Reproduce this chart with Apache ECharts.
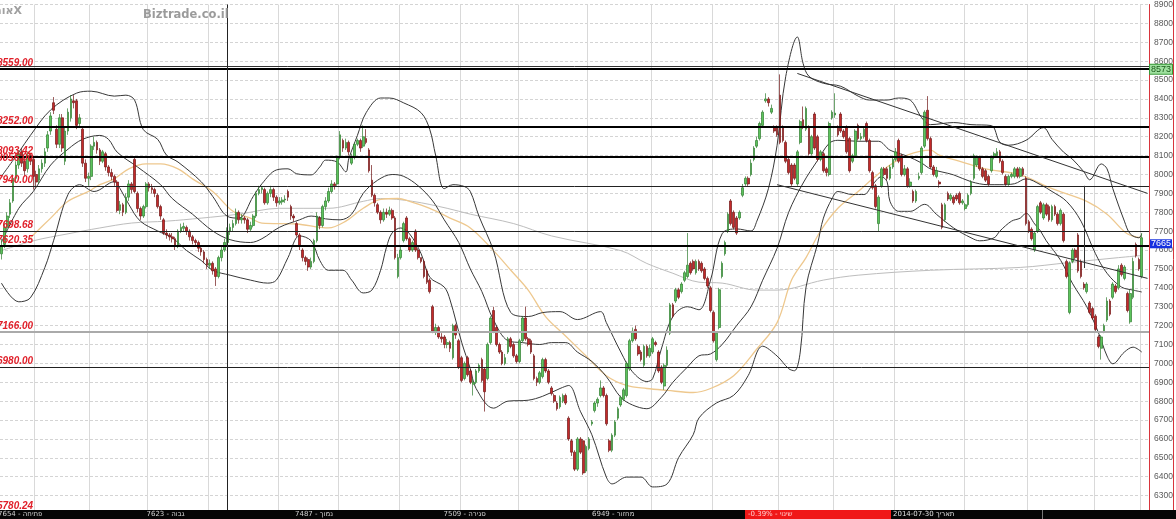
<!DOCTYPE html>
<html><head><meta charset="utf-8">
<script src="https://cdn.jsdelivr.net/npm/echarts@6/dist/echarts.min.js"></script>
<style>html,body{margin:0;padding:0;background:#fff;overflow:hidden}#c{width:1176px;height:519px}</style>
</head><body><div id="c"></div>
<script>
// [open, close, low, high]
const candles = [
[7580,7620,7550,7660],[7630,7720,7610,7740],[7720,7780,7700,7800],[7790,7850,7770,7870],[7860,7980,7850,8000],
[7980,8050,7960,8070],[8050,8110,8030,8130],[8120,8060,8040,8140],[8070,8020,7990,8090],[8030,8100,8010,8120],
[8100,8070,8050,8110],[8080,7990,7920,8100],[8000,7960,7930,8020],[7970,8030,7950,8050],[8030,8060,8010,8080],
[8060,8120,8040,8140],[8140,8210,8120,8230],[8230,8310,8210,8330],[8380,8340,8320,8410],[8240,8160,8140,8260],
[8160,8300,8140,8320],[8300,8140,8120,8320],[8070,8230,8050,8250],[8230,8330,8210,8350],[8300,8400,8280,8420],
[8390,8380,8350,8420],[8390,8260,8240,8400],[8270,8300,8250,8320],[8240,8060,8040,8250],[8060,7980,7960,8080],
[7980,7990,7940,8010],[7990,8150,7970,8160],[8150,8170,8130,8200],[8170,8130,8110,8180],[8130,8070,8050,8140],
[8070,8120,8060,8130],[8110,8040,8020,8120],[8040,8010,7990,8050],[8010,7990,7970,8030],[7990,7960,7940,8000],
[7960,7810,7800,7970],[7810,7840,7790,7860],[7840,7800,7780,7850],[7800,7880,7790,7900],[7880,7950,7860,7970],
[7950,7920,7900,7960],[8080,7910,7900,8090],[7900,7820,7800,7910],[7820,7780,7760,7830],[7780,7830,7770,7840],
[7830,7950,7820,7960],[7950,7930,7910,7960],[7930,7920,7900,7950],[7920,7900,7880,7930],[7890,7830,7820,7900],
[7830,7780,7760,7840],[7760,7690,7680,7770],[7690,7680,7660,7710],[7680,7670,7650,7690],[7670,7660,7640,7690],
[7660,7620,7600,7670],[7620,7700,7610,7710],[7700,7720,7690,7740],[7715,7725,7700,7745],[7720,7700,7680,7730],
[7700,7670,7650,7710],[7670,7650,7630,7680],[7650,7640,7620,7660],[7640,7610,7590,7650],[7610,7590,7570,7620],
[7590,7550,7530,7600],[7550,7520,7500,7560],[7520,7530,7500,7550],[7530,7490,7470,7540],[7500,7460,7410,7510],
[7460,7560,7450,7570],[7560,7600,7540,7620],[7600,7640,7590,7660],[7640,7700,7620,7720],[7700,7720,7680,7740],
[7720,7740,7700,7760],[7740,7800,7730,7820],[7800,7760,7740,7810],[7760,7770,7740,7790],[7770,7760,7740,7780],
[7760,7710,7690,7770],[7710,7730,7700,7750],[7730,7780,7720,7790],[7780,7900,7770,7910],[7900,7920,7890,7940],
[7920,7930,7900,7940],[7920,7850,7840,7930],[7850,7900,7840,7910],[7900,7920,7880,7940],[7920,7880,7860,7930],
[7880,7850,7830,7890],[7850,7860,7840,7880],[7855,7865,7840,7880],[7865,7870,7850,7890],[7910,7880,7860,7920],
[7830,7780,7760,7840],[7780,7770,7750,7790],[7740,7680,7670,7750],[7680,7620,7600,7690],[7600,7560,7540,7610],
[7560,7540,7520,7570],[7550,7510,7490,7560],[7510,7540,7500,7560],[7540,7650,7530,7660],[7650,7780,7640,7800],
[7770,7730,7710,7780],[7730,7830,7720,7840],[7830,7860,7810,7880],[7860,7910,7850,7930],[7910,7950,7900,7970],
[7950,7940,7920,7960],[7950,8090,7940,8100],[8090,8210,8080,8230],[8180,8140,8120,8190],[8140,8170,8130,8190],
[8170,8120,8100,8180],[8060,8090,8050,8110],[8090,8160,8080,8170],[8160,8180,8150,8190],[8180,8140,8120,8190],
[8150,8200,8140,8260],[8190,8170,8160,8240],[8130,8020,8010,8140],[7970,7890,7880,8050],[7890,7850,7830,7900],
[7840,7800,7790,7850],[7800,7760,7740,7810],[7760,7800,7750,7820],[7800,7790,7770,7820],[7790,7810,7780,7830],
[7810,7770,7760,7820],[7770,7560,7550,7780],[7460,7560,7450,7580],[7560,7600,7550,7620],[7650,7740,7640,7750],
[7770,7660,7650,7780],[7660,7600,7590,7670],[7600,7640,7590,7650],[7700,7600,7590,7710],[7600,7560,7550,7610],
[7560,7540,7530,7560],[7540,7460,7450,7550],[7490,7430,7420,7500],[7440,7380,7370,7450],[7300,7170,7160,7310],
[7170,7190,7150,7210],[7190,7140,7130,7200],[7140,7130,7110,7160],[7140,7100,7080,7150],[7100,7110,7080,7130],
[7110,7080,7060,7120],[7030,7200,7020,7210],[7200,7150,7130,7210],[7120,6980,6970,7130],[7030,6910,6900,7040],
[6920,7000,6910,7010],[7030,6940,6930,7040],[6960,6900,6890,6970],[6890,6900,6830,6920],[6900,6960,6890,6970],
[6960,6990,6950,7000],[7020,6910,6900,7030],[6970,6850,6745,6980],[6920,7100,6910,7110],[7110,7240,7100,7250],
[7280,7170,7160,7300],[7190,7100,7090,7200],[7100,7060,7050,7110],[7060,7000,6990,7070],[7000,7030,6990,7050],
[7060,7130,7050,7140],[7130,7090,7080,7140],[7100,7040,7030,7110],[7040,7010,7000,7050],[7010,7120,7000,7130],
[7120,7240,7110,7250],[7240,7130,7120,7300],[7130,7100,7090,7140],[7120,7060,7050,7130],[7040,6920,6910,7050],
[6920,6900,6880,6930],[6900,6950,6890,6960],[6930,7020,6920,7030],[7020,6960,6950,7030],[6960,6900,6890,6970],
[6870,6840,6830,6880],[6830,6800,6790,6840],[6790,6760,6750,6800],[6770,6820,6760,6830],[6800,6830,6790,6840],
[6830,6790,6780,6840],[6710,6600,6590,6720],[6590,6530,6510,6600],[6530,6440,6430,6540],[6440,6600,6430,6610],
[6600,6530,6520,6610],[6590,6420,6410,6600],[6430,6560,6420,6570],[6550,6600,6540,6610],[6680,6690,6670,6700],
[6750,6790,6740,6800],[6790,6810,6770,6820],[6830,6870,6820,6910],[6870,6830,6820,6880],[6830,6680,6670,6840],
[6590,6540,6530,6600],[6540,6620,6530,6630],[6620,6690,6610,6700],[6710,6760,6700,6770],[6780,6820,6770,6830],
[6810,6860,6800,6870],[6830,7000,6820,7010],[6970,7120,6960,7130],[7120,7170,7110,7190],[7180,7130,7120,7200],
[7090,7050,7040,7100],[7060,7020,7010,7070],[6990,7090,6980,7100],[7090,7040,7030,7100],[7040,7080,7030,7100],
[7060,7130,7050,7140],[7110,7100,7090,7120],[7060,6960,6950,7070],[6980,6900,6890,6990],[6880,6990,6860,7000],
[6990,7070,6980,7090],[7160,7310,7150,7320],[7310,7250,7240,7320],[7330,7390,7320,7400],[7390,7350,7340,7400],
[7380,7420,7370,7430],[7440,7480,7430,7490],[7460,7520,7450,7690],[7530,7480,7470,7540],[7540,7500,7490,7550],
[7480,7540,7470,7550],[7540,7500,7490,7550],[7530,7490,7480,7540],[7500,7450,7440,7510],[7450,7410,7400,7460],
[7400,7280,7270,7410],[7270,7120,7110,7280],[7020,7160,7010,7170],[7190,7390,7180,7400],[7460,7530,7450,7540],
[7580,7640,7570,7650],[7700,7790,7690,7800],[7860,7740,7730,7870],[7800,7720,7710,7810],[7770,7690,7680,7780],
[7770,7800,7760,7810],[7890,7930,7880,7950],[7950,7980,7940,7990],[7980,7950,7940,7990],[8000,8060,7990,8080],
[8080,8140,8070,8150],[8150,8180,8140,8200],[8190,8270,8180,8280],[8260,8330,8250,8340],[8390,8400,8380,8430],
[8400,8380,8360,8410],[8330,8350,8320,8370],[8250,8230,8220,8260],[8250,8210,8200,8260],[8420,8170,8160,8530],
[8250,8180,8170,8260],[8170,8070,8060,8180],[8080,8010,8000,8090],[8050,7950,7940,8060],[8050,7980,7970,8060],
[7950,8120,7940,8130],[8170,8280,8160,8290],[8290,8250,8240,8360],[8240,8350,8230,8360],[8250,8110,8100,8260],
[8110,8200,8100,8210],[8320,8140,8130,8330],[8200,8080,8070,8210],[8080,8120,8070,8130],[8110,8020,8010,8120],
[8030,8010,7990,8040],[8000,8270,7990,8280],[8300,8330,8290,8340],[8315,8325,8300,8430],[8250,8210,8200,8260],
[8320,8230,8220,8330],[8230,8200,8190,8240],[8250,8120,8110,8260],[8190,8020,8010,8200],[8070,8100,8060,8110],
[8100,8230,8090,8240],[8260,8190,8180,8270],[8190,8200,8180,8220],[8200,8240,8190,8250],[8270,8180,8170,8280],
[8180,8020,8010,8190],[8010,7930,7920,8020],[7940,7830,7820,7950],[7740,7880,7700,7890],[7940,8030,7930,8040],
[8030,8000,7990,8040],[8030,7980,7970,8040],[7980,8040,7970,8050],[8040,8080,8030,8090],[8080,8120,8070,8140],
[8180,8070,8060,8190],[8100,8000,7990,8110],[8000,8030,7990,8050],[8030,7940,7930,8040],[7940,7960,7930,7980],
[7910,7860,7850,7920],[7860,7910,7850,7920],[7980,7990,7970,8010],[8010,8140,8000,8150],[8150,8330,8140,8340],
[8340,8190,8180,8415],[8190,8040,8030,8200],[8040,8000,7990,8050],[7990,8020,7980,8040],[7960,7950,7930,7970],
[7840,7720,7710,7850],[7760,7840,7750,7850],[7900,7870,7860,7910],[7870,7890,7860,7900],[7880,7850,7840,7890],
[7890,7870,7860,7900],[7900,7850,7840,7910],[7850,7860,7840,7870],[7820,7840,7810,7850],[7840,7890,7830,7900],
[7900,7960,7890,7970],[7980,8100,7970,8110],[8050,8090,8040,8100],[8090,8030,8020,8100],[8030,7990,7980,8040],
[8020,7970,7960,8030],[7990,7950,7940,8000],[8020,8090,8010,8100],[8090,8110,8080,8120],[8100,8120,8090,8140],
[8120,8070,8060,8130],[8070,8010,8000,8080],[7990,7950,7940,8000],[7950,7990,7940,8000],[7990,8000,7980,8010],
[7990,8030,7980,8040],[8030,7990,7980,8040],[7990,8030,7980,8040],[8030,8000,7990,8040],[7980,7740,7730,7990],
[7750,7700,7690,7760],[7710,7660,7650,7720],[7600,7690,7590,7700],[7700,7830,7690,7840],[7850,7800,7790,7860],
[7770,7840,7760,7850],[7840,7790,7780,7850],[7830,7760,7750,7840],[7760,7830,7750,7840],[7830,7790,7780,7840],
[7790,7740,7730,7800],[7740,7810,7730,7820],[7790,7650,7640,7800],[7540,7460,7450,7550],[7270,7530,7260,7540],
[7540,7600,7530,7610],[7600,7560,7550,7610],[7680,7490,7480,7690],[7540,7460,7450,7550],[7420,7400,7390,7430],
[7380,7420,7370,7430],[7320,7270,7260,7330],[7290,7240,7230,7300],[7250,7180,7170,7260],[7140,7090,7080,7150],
[7080,7140,7020,7150],[7170,7200,7160,7210],[7230,7330,7220,7350],[7330,7260,7250,7340],[7350,7420,7340,7430],
[7410,7380,7370,7420],[7400,7500,7390,7520],[7520,7470,7460,7530],[7450,7510,7440,7520],[7370,7280,7270,7380],
[7220,7370,7210,7390],[7350,7540,7340,7560],[7630,7570,7560,7640],[7550,7500,7490,7560],[7460,7665,7450,7690]
];
const padSlots = 2;
const categories = Array.from({length: candles.length + padSlots}, (_, i) => String(i));

// Bollinger bands and moving averages, sampled [candle index, value]
const bbUpper = [[0,7990],[6,8118],[10,8207],[17,8342],[26,8431],[31,8441],[39,8415],[43,8420],[46,8394],[49,8238],[54,8186],[57,8103],[61,8066],[69,7962],[73,7884],[78,7779],[82,7769],[87,7884],[90,7951],[95,8024],[99,8030],[102,8004],[107,7998],[110,8040],[112,8076],[116,8066],[119,8014],[120,8082],[123,8207],[126,8327],[131,8405],[134,8405],[139,8379],[145,8327],[148,8238],[150,8103],[153,7925],[156,7946],[160,7936],[162,7910],[165,7779],[170,7597],[176,7269],[182,7248],[187,7269],[193,7274],[199,7232],[207,7274],[209,7216],[214,7060],[218,6956],[223,6904],[225,6919],[228,7076],[232,7248],[237,7300],[241,7284],[245,7441],[249,7686],[254,7712],[259,7701],[261,7753],[265,7925],[268,8155],[271,8520],[275,8728],[277,8587],[279,8520],[284,8483],[290,8467],[296,8415],[300,8394],[306,8394],[310,8405],[314,8394],[318,8300],[321,8264],[329,8275],[335,8264],[342,8259],[345,8170],[348,8155],[354,8181],[360,8248],[363,8186],[367,8118],[370,8082],[374,8014],[376,7972],[380,8056],[382,8030],[384,7925],[388,7753],[390,7686],[393,7665],[394,7686]];
const bbMiddle = [[0,7640],[6,7821],[11,7910],[17,8050],[23,8134],[28,8186],[34,8207],[37,8186],[40,8118],[47,8040],[55,7946],[59,7873],[66,7790],[73,7701],[79,7655],[86,7640],[90,7660],[96,7720],[103,7760],[107,7780],[112,7765],[117,7760],[121,7790],[125,7900],[130,7970],[135,8000],[139,7990],[144,7940],[149,7860],[153,7760],[158,7640],[162,7500],[166,7380],[170,7230],[175,7120],[180,7110],[186,7100],[190,7110],[195,7110],[199,7060],[204,7010],[209,6930],[214,6820],[218,6780],[223,6760],[228,6820],[232,6900],[237,6980],[241,7040],[245,7050],[249,7100],[254,7200],[259,7300],[263,7440],[268,7610],[272,7800],[277,7955],[282,8075],[286,8165],[289,8181],[296,8176],[303,8176],[307,8129],[313,8097],[318,8060],[321,8030],[329,7998],[335,7962],[341,7946],[345,7946],[350,7951],[354,7977],[359,7946],[363,7910],[368,7858],[373,7753],[378,7581],[382,7477],[387,7404],[391,7388],[394,7378]];
const bbLower = [[0,7425],[6,7326],[10,7347],[15,7508],[18,7649],[23,7894],[27,7946],[32,7910],[39,7962],[41,7925],[44,7842],[48,7753],[54,7701],[59,7665],[64,7597],[69,7545],[73,7493],[79,7467],[86,7441],[92,7425],[95,7441],[99,7560],[103,7675],[107,7649],[110,7545],[113,7493],[118,7493],[121,7441],[125,7373],[128,7388],[131,7493],[133,7613],[135,7691],[138,7717],[141,7686],[145,7581],[148,7456],[153,7404],[155,7336],[159,7112],[162,6972],[164,6867],[170,6763],[175,6800],[182,6805],[187,6826],[193,6867],[196,6883],[200,6747],[204,6622],[209,6398],[211,6362],[216,6398],[221,6398],[225,6346],[230,6362],[234,6502],[239,6622],[241,6711],[247,6790],[253,6831],[258,6935],[263,7091],[268,7039],[272,6972],[274,6961],[276,7060],[278,7404],[282,7634],[284,7769],[287,7873],[289,7910],[294,7894],[298,7894],[301,7946],[304,7988],[306,7962],[307,7858],[310,7805],[314,7805],[319,7842],[323,7790],[329,7717],[335,7665],[338,7649],[343,7665],[345,7701],[349,7753],[352,7769],[354,7795],[357,7738],[359,7701],[361,7649],[366,7545],[370,7425],[375,7300],[379,7164],[382,7039],[384,6998],[388,7060],[391,7086],[394,7060]];
const maSlow = [[10,7665],[17,7769],[23,7858],[30,7910],[34,7946],[39,7977],[44,8030],[50,8056],[55,8056],[61,8030],[66,7977],[73,7910],[80,7805],[86,7769],[90,7743],[102,7738],[113,7717],[119,7753],[125,7821],[131,7868],[137,7873],[141,7858],[148,7821],[155,7769],[162,7717],[170,7597],[176,7493],[182,7388],[188,7248],[195,7144],[202,7039],[209,6935],[216,6883],[223,6867],[230,6857],[239,6846],[245,6867],[253,6935],[261,7076],[268,7216],[273,7441],[278,7560],[283,7701],[289,7821],[296,7910],[301,7977],[307,8050],[313,8103],[321,8129],[324,8103],[332,8066],[340,8030],[352,7998],[363,7925],[375,7858],[382,7790],[389,7686],[394,7665]];
const maLong = [[0,7597],[11,7649],[23,7686],[34,7717],[45,7743],[57,7753],[69,7769],[82,7790],[96,7821],[113,7821],[125,7858],[131,7873],[142,7858],[154,7821],[162,7790],[177,7740],[190,7675],[214,7597],[223,7529],[232,7477],[241,7430],[249,7425],[261,7388],[268,7388],[284,7441],[296,7467],[321,7493],[352,7508],[369,7534],[386,7560],[394,7571]];

// horizontal support / resistance levels
const levels = [8573, 8559, 8252, 8093.42, 8056, 7940, 7698.68, 7620.35, 7166, 6980];
const levelLabels = ['', '8559.00', '8252.00', '8093.42', '8056.00', '7940.00', '7698.68', '7620.35', '7166.00', '6980.00'];
const offscaleLabel = '5780.24';
// drawn trend channel: [startIndex, startValue, endIndex, endValue]
const trendLines = [[275, 8535, 396, 7900], [268, 7946, 396, 7450]];
const measureLine = [374, 7940, 7505];
const cursorIndex = 78;
const monthStarts = [12, 31, 51, 72, 96, 117, 138, 159, 179, 203, 225, 246, 269, 288, 309, 333, 355, 378, 394];
const lastPrice = 7665;
const tagPrice = 8573;

// status bar
const statusItems = ['7654 - פתיחה', '7623 - גבוה', '7487 - נמוך', '7509 - סגירה', '6949 - מחזור'];
const changeText = '-0.39% - שינוי';
const dateText = '2014-07-30 תאריך';
const siteTitle = 'Biztrade.co.il';
const symbolTitle = 'אוםX';

const chart = echarts.init(document.getElementById('c'), null, {renderer: 'canvas'});
const levelWidths = [1, 2, 2, 2, 0, 1, 1, 2, 2, 1];
const levelColors = ['#333', '#000', '#000', '#000', '#000', '#222', '#222', '#000', '#aaa', '#222'];
const monthSet = new Set(monthStarts);

const redLabel = (text) => ({
  show: true, position: 'insideStartTop', formatter: text, distance: [-3, 1],
  color: '#e0202a', fontStyle: 'italic', fontWeight: 'bold', fontSize: 10, fontFamily: 'Liberation Sans'
});

const levelLines = levels.map((v, i) => ({
  yAxis: v,
  lineStyle: {color: levelWidths[i] ? levelColors[i] : 'rgba(0,0,0,0)', width: levelWidths[i] || 1, type: 'solid'},
  label: levelLabels[i] ? redLabel(levelLabels[i]) : (v === tagPrice ? {
    show: true, position: 'end', formatter: String(tagPrice), distance: 1,
    color: '#1a5a1a', backgroundColor: '#9fe09f', borderColor: '#3a9a3a', borderWidth: 1,
    padding: [0, 1, 0, 1], fontSize: 9, fontFamily: 'Liberation Sans', offset: [0, 3]
  } : {show: false})
}));

const trendData = trendLines.map(t => [
  {coord: [t[0], t[1]], lineStyle: {color: '#333', width: 1, type: 'solid'}, label: {show: false}},
  {coord: [t[2], t[3]]}
]);
trendData.push([
  {coord: [measureLine[0], measureLine[1]], lineStyle: {color: '#333', width: 1, type: 'solid'}, label: {show: false}},
  {coord: [measureLine[0], measureLine[2]]}
]);

const lineSeries = (name, data, color, width, z) => ({
  name, type: 'line', data, smooth: 0.35, symbol: 'none', z,
  lineStyle: {color, width}, silent: true, connectNulls: true
});

const option = {
  animation: false,
  backgroundColor: '#ffffff',
  grid: {left: 0, right: 27, top: 0, height: 518, containLabel: false},
  xAxis: {
    type: 'category', data: categories, boundaryGap: true,
    axisLine: {show: false}, axisTick: {show: false}, axisLabel: {show: false},
    splitLine: {show: true, interval: (i) => monthSet.has(i), lineStyle: {color: '#d9d9d9', width: 1}}
  },
  yAxis: {
    type: 'value', position: 'right', min: 6200, max: 8900, interval: 100, scale: true,
    axisLine: {show: true, lineStyle: {color: '#d8343c', width: 1}},
    axisTick: {show: false},
    axisLabel: {color: '#5a5a5a', fontSize: 8.5, fontFamily: 'Liberation Sans', margin: 5, formatter: (v) => String(v)},
    splitLine: {show: true, lineStyle: {color: '#d4d4d4', type: [3, 2], width: 1}}
  },
  series: [
    lineSeries('MA long', maLong, '#bdbdbd', 1, 2),
    lineSeries('MA slow', maSlow, '#eec88e', 1.3, 2),
    lineSeries('BB upper', bbUpper, '#383838', 1, 3),
    lineSeries('BB middle', bbMiddle, '#383838', 1, 3),
    lineSeries('BB lower', bbLower, '#383838', 1, 3),
    {
      name: 'price', type: 'candlestick', data: candles, barWidth: 2.2, z: 4,
      itemStyle: {color: '#5cc45c', color0: '#c42a2a', borderColor: '#2f7d2f', borderColor0: '#701515', borderWidth: 0.7},
      markLine: {
        symbol: ['none', 'none'], silent: true, animation: false, precision: 2,
        data: [
          ...levelLines,
          {xAxis: String(cursorIndex), lineStyle: {color: '#222', width: 1, type: 'solid'}, label: {show: false}},
          {yAxis: lastPrice, lineStyle: {color: 'rgba(0,0,0,0)', width: 1}, label: {
            show: true, position: 'end', formatter: String(lastPrice), distance: 1,
            color: '#ffffff', backgroundColor: '#1530e0', padding: [0, 1, 0, 1],
            fontSize: 9, fontFamily: 'Liberation Sans', offset: [0, 6]
          }},
          ...trendData
        ]
      }
    }
  ],
  graphic: [
    {type: 'line', shape: {x1: 1173.5, y1: 0, x2: 1173.5, y2: 519}, style: {stroke: '#d8343c', lineWidth: 1}, z: 20},
    {type: 'text', left: 143, top: 9, style: {text: siteTitle, fill: '#9b9b9b', font: 'bold 11.5px "DejaVu Sans"'}, z: 20},
    {type: 'text', left: -6, top: 6, style: {text: symbolTitle, fill: '#a0a0a0', font: 'bold 11px "DejaVu Sans"'}, z: 20},
    {type: 'text', left: -3, top: 501, style: {text: offscaleLabel, fill: '#e0202a', font: 'italic bold 10px "Liberation Sans"'}, z: 20},
    {type: 'rect', shape: {x: 0, y: 510, width: 1176, height: 9}, style: {fill: '#050505'}, z: 30},
    {type: 'rect', shape: {x: 745, y: 510, width: 146, height: 9}, style: {fill: '#f01818'}, z: 31},
    {type: 'line', shape: {x1: 1042.5, y1: 510, x2: 1042.5, y2: 519}, style: {stroke: '#777', lineWidth: 1}, z: 31},
    ...statusItems.map((t, i) => ({type: 'text', left: -2 + i * 148.5, top: 511, style: {text: t, fill: '#d0d0d0', font: '7px "DejaVu Sans"'}, z: 32})),
    {type: 'text', left: 748, top: 511, style: {text: changeText, fill: '#ffd0d0', font: '7px "DejaVu Sans"'}, z: 32},
    {type: 'text', left: 893, top: 511, style: {text: dateText, fill: '#e0e0e0', font: '7px "DejaVu Sans"'}, z: 32}
  ]
};
chart.setOption(option);
</script>
</body></html>
